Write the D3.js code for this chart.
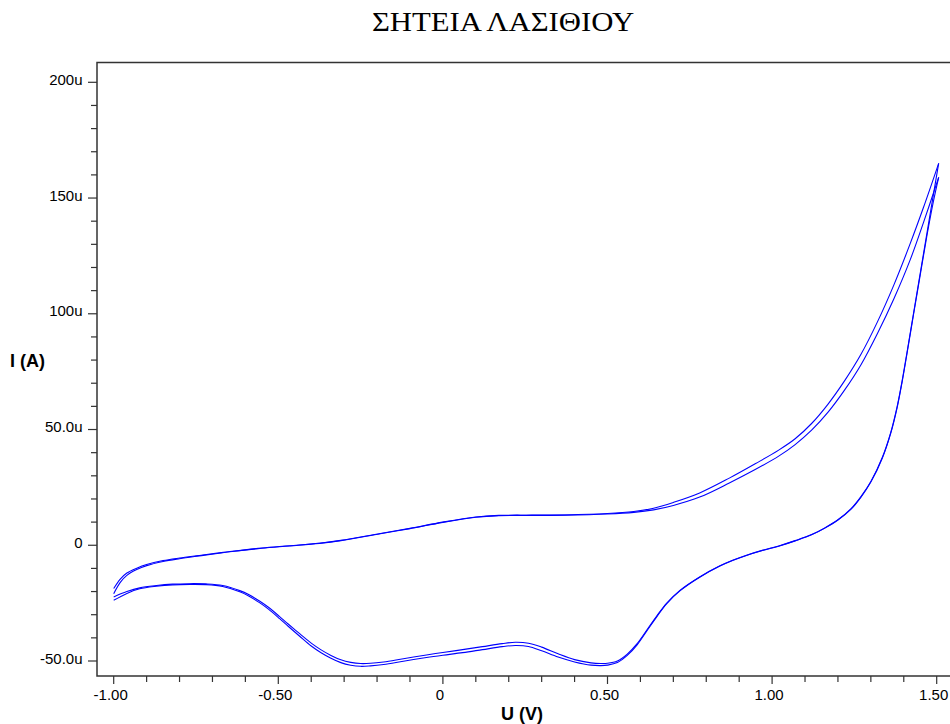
<!DOCTYPE html>
<html>
<head>
<meta charset="utf-8">
<script src="https://cdn.jsdelivr.net/npm/d3@7"></script>
<style>
  body { margin: 0; background: #fff; }
  svg { display: block; }
</style>
</head>
<body>
<div id="chart"></div>
<script>
// Cyclic voltammogram, two scans. U in volts, I in microamps.
const title = 'ΣΗΤΕΙΑ ΛΑΣΙΘΙΟΥ';

// anodic (forward) sweep
const forwardU = [-1.00, -0.98, -0.96, -0.93, -0.90, -0.85, -0.80, -0.74, -0.64, -0.55, -0.465, -0.375, -0.31, -0.19, -0.10,
  0.00, 0.10, 0.17, 0.27, 0.37, 0.50, 0.58, 0.64, 0.70, 0.78, 0.87, 0.95, 1.02, 1.07, 1.12, 1.17, 1.22, 1.27, 1.32,
  1.37, 1.42, 1.46, 1.506];
const forwardI1 = [-18.7, -14.6, -12.0, -9.9, -8.3, -6.6, -5.5, -4.4, -2.6, -1.2, -0.2, 0.9, 2.1, 5.1, 7.3,
  10.0, 12.2, 12.9, 13.0, 13.1, 13.7, 14.6, 16.0, 18.5, 22.6, 29.0, 35.3, 41.1, 46.0, 52.6, 61.0, 71.0, 82.5, 96.5,
  112.5, 130.5, 146.0, 165.0];
const forwardI2 = [-20.9, -16.0, -13.0, -10.5, -8.8, -7.0, -5.8, -4.6, -2.7, -1.3, -0.3, 0.8, 2.0, 5.0, 7.2,
  9.9, 12.1, 12.8, 12.9, 13.0, 13.5, 14.2, 15.3, 17.2, 20.8, 26.9, 32.8, 38.5, 43.5, 49.7, 57.5, 67.0, 78.0, 91.5,
  106.5, 123.5, 139.5, 158.9];

// cathodic (return) sweep
const returnU = [1.506, 1.49, 1.47, 1.45, 1.43, 1.41, 1.395, 1.38, 1.36, 1.335, 1.30, 1.27, 1.24, 1.20, 1.16, 1.12,
  1.07, 1.02, 0.97, 0.92, 0.88, 0.84, 0.78, 0.72, 0.68, 0.65, 0.62, 0.59, 0.56, 0.53, 0.50, 0.48, 0.45, 0.40, 0.35,
  0.30, 0.26, 0.22, 0.18, 0.12, 0.06, 0.00, -0.05, -0.12, -0.18, -0.22, -0.25, -0.28, -0.31, -0.34, -0.37, -0.40,
  -0.435, -0.47, -0.496, -0.53, -0.556, -0.59, -0.617, -0.669, -0.72, -0.769, -0.821, -0.87, -0.921, -0.96, -1.00];
const returnI1 = [165.0, 151.5, 134.5, 117.5, 100.5, 83.5, 71.0, 60.0, 48.5, 38.0, 27.5, 21.0, 15.8, 11.0, 7.5, 4.6,
  2.0, -0.3, -2.2, -4.4, -6.5, -9.0, -13.7, -19.5, -25.0, -30.5, -36.5, -42.5, -47.0, -50.0, -51.0, -51.1, -50.8, -49.4, -46.9,
  -44.0, -42.3, -41.9, -42.5, -43.8, -45.1, -46.3, -47.4, -49.0, -50.4, -51.0, -51.1, -50.6, -49.5, -47.6, -45.2, -42.3,
  -38.2, -34.0, -30.8, -26.8, -24.2, -21.3, -19.6, -17.4, -16.7, -16.6, -16.8, -17.4, -18.4, -20.0, -22.3];
const returnI2 = [158.9, 148.5, 133.5, 116.8, 100.0, 83.0, 70.6, 59.6, 48.2, 37.7, 27.3, 20.8, 15.6, 10.9, 7.4, 4.5,
  1.9, -0.4, -2.3, -4.5, -6.6, -9.1, -13.8, -19.7, -25.2, -30.8, -36.9, -43.0, -47.6, -50.7, -51.8, -52.0, -51.8, -50.4, -48.3,
  -45.6, -43.7, -43.3, -43.8, -45.1, -46.4, -47.5, -48.5, -50.1, -51.5, -52.1, -52.3, -51.8, -50.7, -48.8, -46.4, -43.5,
  -39.3, -35.0, -31.7, -27.6, -24.9, -21.9, -20.1, -17.8, -17.0, -16.9, -17.1, -17.7, -18.8, -20.8, -23.8];

const xMajor = [-1.0, -0.5, 0, 0.5, 1.0, 1.5];
const xMajorLabels = ['-1.00', '-0.50', '0', '0.50', '1.00', '1.50'];
const yMajor = [-50, 0, 50, 100, 150, 200];
const yMajorLabels = ['-50.0u', '0', '50.0u', '100u', '150u', '200u'];

const width = 950, height = 724;
const box = {left: 97, top: 62.5, right: 952, bottom: 676};

const svg = d3.select('#chart').append('svg')
  .attr('width', width)
  .attr('height', height);

const x = d3.scaleLinear().domain([-1, 1.5]).range([113.7, 936.7]);
const y = d3.scaleLinear().domain([-50, 200]).range([661, 82.3]);

const axisColor = '#333';
const font = 'Arial, "Liberation Sans", sans-serif';

// title (the original face is a bit wider than Times, so stretch it)
svg.append('text')
  .attr('transform', 'translate(503,31) scale(1.16,1)')
  .attr('text-anchor', 'middle')
  .style('font-family', '"Times New Roman", "Liberation Serif", serif')
  .style('font-size', '26.5px')
  .style('fill', '#000')
  .text(title);

// curves
const line = d3.line()
  .x(d => x(d[0]))
  .y(d => y(d[1]))
  .curve(d3.curveCatmullRom.alpha(0.5));

const branches = [
  d3.zip(forwardU, forwardI1),
  d3.zip(returnU, returnI1),
  d3.zip(forwardU, forwardI2),
  d3.zip(returnU, returnI2)
];

svg.append('g')
  .attr('class', 'curves')
  .selectAll('path')
  .data(branches)
  .enter()
  .append('path')
  .attr('d', line)
  .style('fill', 'none')
  .style('stroke', '#0000ff')
  .style('stroke-width', 1.1);

// frame
svg.append('path')
  .attr('class', 'frame')
  .attr('d', 'M' + box.right + ',' + box.top + 'H' + box.left + 'V' + box.bottom + 'H' + box.right)
  .style('fill', 'none')
  .style('stroke', axisColor)
  .style('stroke-width', 1.5);

// y axis ticks
const yAxisG = svg.append('g').attr('class', 'axis axis--y');
const yMinor = d3.range(-50, 201, 10).filter(v => !yMajor.includes(v));
yAxisG.selectAll('line.minor')
  .data(yMinor)
  .enter()
  .append('line')
  .attr('class', 'minor')
  .attr('x1', box.left - 6).attr('x2', box.left)
  .attr('y1', d => y(d)).attr('y2', d => y(d))
  .style('stroke', axisColor).style('stroke-width', 1.2);
yAxisG.selectAll('line.major')
  .data(yMajor)
  .enter()
  .append('line')
  .attr('class', 'major')
  .attr('x1', box.left - 9).attr('x2', box.left)
  .attr('y1', d => y(d)).attr('y2', d => y(d))
  .style('stroke', axisColor).style('stroke-width', 1.2);
yAxisG.selectAll('text')
  .data(yMajor)
  .enter()
  .append('text')
  .attr('x', 82.5)
  .attr('y', d => y(d) + 2.5)
  .attr('text-anchor', 'end')
  .style('font-family', font)
  .style('font-size', '15px')
  .style('fill', '#000')
  .text((d, i) => yMajorLabels[i]);

// x axis ticks
const xAxisG = svg.append('g').attr('class', 'axis axis--x');
const xMinor = d3.range(-10, 16, 1).map(v => v / 10).filter(v => !xMajor.some(m => Math.abs(m - v) < 1e-9));
xAxisG.selectAll('line.minor')
  .data(xMinor)
  .enter()
  .append('line')
  .attr('class', 'minor')
  .attr('x1', d => x(d)).attr('x2', d => x(d))
  .attr('y1', box.bottom).attr('y2', box.bottom + 6)
  .style('stroke', axisColor).style('stroke-width', 1.2);
xAxisG.selectAll('line.major')
  .data(xMajor)
  .enter()
  .append('line')
  .attr('class', 'major')
  .attr('x1', d => x(d)).attr('x2', d => x(d))
  .attr('y1', box.bottom).attr('y2', box.bottom + 8)
  .style('stroke', axisColor).style('stroke-width', 1.2);
xAxisG.selectAll('text')
  .data(xMajor)
  .enter()
  .append('text')
  .attr('x', d => x(d) - 3)
  .attr('y', 700)
  .attr('text-anchor', 'middle')
  .style('font-family', font)
  .style('font-size', '15px')
  .style('fill', '#000')
  .text((d, i) => xMajorLabels[i]);

// axis titles
svg.append('text')
  .attr('x', 522)
  .attr('y', 720)
  .attr('text-anchor', 'middle')
  .style('font-family', font)
  .style('font-size', '18px')
  .style('font-weight', 'bold')
  .style('fill', '#000')
  .text('U (V)');

svg.append('text')
  .attr('x', 10)
  .attr('y', 367)
  .style('font-family', font)
  .style('font-size', '18px')
  .style('font-weight', 'bold')
  .style('fill', '#000')
  .text('I (A)');
</script>
</body>
</html>
